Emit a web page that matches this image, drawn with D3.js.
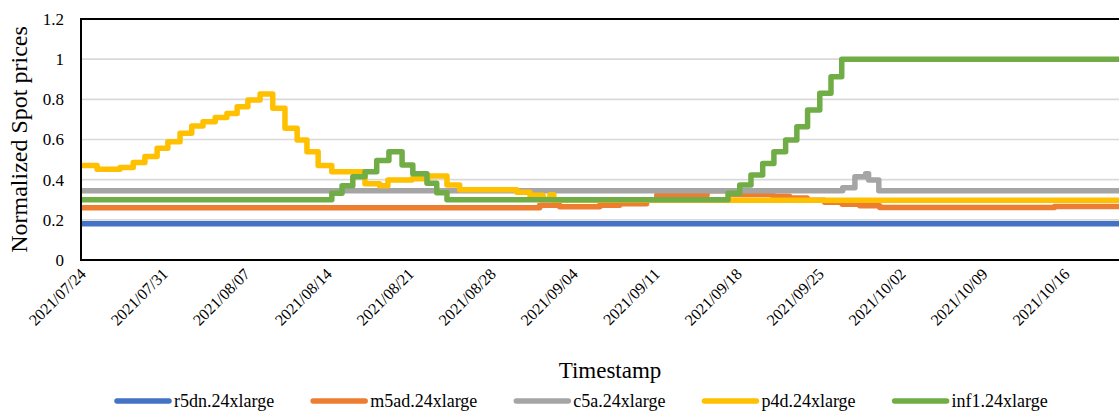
<!DOCTYPE html>
<html><head><meta charset="utf-8">
<script src="https://cdn.jsdelivr.net/npm/d3@7/dist/d3.min.js"></script>
<style>
body{margin:0;background:#fff}
svg{display:block}
svg text{font-family:"Liberation Serif","Times New Roman",serif;fill:#000}
</style>
</head><body>
<svg id="chart" width="1119" height="412"></svg>
<script>
// ---------- data ----------
const seriesNames = ["r5dn.24xlarge", "m5ad.24xlarge", "c5a.24xlarge", "p4d.24xlarge", "inf1.24xlarge"];
const seriesColors = ["#4472C4", "#ED7D31", "#A5A5A5", "#FFC000", "#70AD47"];

const yTickValues = [0, 0.2, 0.4, 0.6, 0.8, 1, 1.2];
const yTickLabels = ["0", "0.2", "0.4", "0.6", "0.8", "1", "1.2"];
const xTickLabels = ["2021/07/24", "2021/07/31", "2021/08/07", "2021/08/14", "2021/08/21", "2021/08/28",
  "2021/09/04", "2021/09/11", "2021/09/18", "2021/09/25", "2021/10/02", "2021/10/09", "2021/10/16"];
const xDomain = ["2021-07-24 00:00", "2021-10-22 00:00"];

const r5dnTimes = ["2021-07-24 00:00", "2021-10-22 00:00"];
const r5dnValues = [0.18, 0.18];

const m5adTimes = ["2021-07-24 00:00", "2021-09-01 04:00", "2021-09-02 21:00", "2021-09-06 07:00", "2021-09-08 00:00",
  "2021-09-10 07:00", "2021-09-11 04:00", "2021-09-15 11:00", "2021-09-17 10:00", "2021-09-21 02:00",
  "2021-09-22 12:00", "2021-09-24 00:00", "2021-09-25 12:00", "2021-09-27 00:00", "2021-09-28 12:00",
  "2021-09-30 05:00", "2021-10-15 03:00", "2021-10-22 00:00"];
const m5adValues = [0.26, 0.272, 0.265, 0.272, 0.28,
  0.30, 0.324, 0.345, 0.326, 0.318,
  0.309, 0.298, 0.288, 0.278, 0.27,
  0.262, 0.267, 0.267];

const c5aTimes = ["2021-07-24 00:00", "2021-09-27 01:00", "2021-09-28 02:00", "2021-09-29 00:00", "2021-09-29 06:00",
  "2021-09-30 03:00", "2021-10-22 00:00"];
const c5aValues = [0.345, 0.36, 0.415, 0.43, 0.398, 0.345, 0.345];

const p4dTimes = ["2021-07-24 00:00", "2021-07-25 09:00", "2021-07-27 08:00", "2021-07-28 11:00", "2021-07-29 11:00",
  "2021-07-30 12:00", "2021-07-31 10:00", "2021-08-01 11:00", "2021-08-02 11:00", "2021-08-03 10:00",
  "2021-08-04 11:00", "2021-08-05 11:00", "2021-08-06 08:00", "2021-08-07 06:00", "2021-08-08 07:00",
  "2021-08-09 09:00", "2021-08-10 10:00", "2021-08-11 11:00", "2021-08-12 07:00", "2021-08-13 06:00",
  "2021-08-14 10:00", "2021-08-17 06:00", "2021-08-18 12:00", "2021-08-19 05:00", "2021-08-21 06:00",
  "2021-08-22 15:00", "2021-08-24 06:00", "2021-08-25 08:00", "2021-08-30 05:00", "2021-08-31 08:00",
  "2021-09-01 11:00", "2021-09-02 01:00", "2021-09-02 09:00", "2021-10-22 00:00"];
const p4dValues = [0.47, 0.452, 0.46, 0.485, 0.515,
  0.556, 0.589, 0.631, 0.667, 0.689,
  0.71, 0.73, 0.763, 0.797, 0.827,
  0.755, 0.656, 0.598, 0.539, 0.47,
  0.44, 0.38, 0.37, 0.398, 0.405,
  0.418, 0.373, 0.35, 0.337, 0.322,
  0.302, 0.325, 0.298, 0.298];

const inf1Times = ["2021-07-24 00:00", "2021-08-14 10:00", "2021-08-15 07:00", "2021-08-16 05:00", "2021-08-17 06:00",
  "2021-08-18 06:00", "2021-08-19 07:00", "2021-08-20 10:00", "2021-08-21 08:00", "2021-08-22 13:00",
  "2021-08-23 09:00", "2021-08-24 06:00", "2021-09-17 06:00", "2021-09-18 06:00", "2021-09-19 05:00",
  "2021-09-20 05:00", "2021-09-21 04:00", "2021-09-22 04:00", "2021-09-23 03:00", "2021-09-24 01:00",
  "2021-09-25 02:00", "2021-09-26 01:00", "2021-09-26 23:00", "2021-10-22 00:00"];
const inf1Values = [0.30, 0.332, 0.37, 0.415, 0.44,
  0.495, 0.539, 0.473, 0.43, 0.382,
  0.335, 0.30, 0.332, 0.373, 0.423,
  0.481, 0.539, 0.598, 0.664, 0.747,
  0.83, 0.913, 1.0, 1.0];

// ---------- chart ----------
const FONT = '"Liberation Serif", "Times New Roman", serif';
const parse = d3.timeParse("%Y-%m-%d %H:%M");
const parseDay = d3.timeParse("%Y/%m/%d");
const allTimes = [r5dnTimes, m5adTimes, c5aTimes, p4dTimes, inf1Times];
const allValues = [r5dnValues, m5adValues, c5aValues, p4dValues, inf1Values];
const series = seriesNames.map((name, i) => ({
  name, color: seriesColors[i],
  points: allTimes[i].map((t, j) => ({ t: parse(t), v: allValues[i][j] }))
}));

const margin = { left: 81, top: 19, bottom: 260, right: 1135 };
const svg = d3.select("#chart");

const x = d3.scaleTime().domain(xDomain.map(parse)).range([margin.left, margin.right]);
const y = d3.scaleLinear().domain([0, 1.2]).range([margin.bottom, margin.top]);

// gridlines
svg.append("g").selectAll("line").data(yTickValues.filter(v => v > 0 && v < 1.2)).join("line")
  .attr("x1", margin.left).attr("x2", margin.right)
  .attr("y1", d => y(d)).attr("y2", d => y(d))
  .attr("stroke", "#d9d9d9").attr("stroke-width", 1.6);

// clip
svg.append("defs").append("clipPath").attr("id", "plotclip").append("rect")
  .attr("x", margin.left).attr("y", margin.top - 5)
  .attr("width", margin.right - margin.left).attr("height", margin.bottom - margin.top + 10);

const line = d3.line().x(d => x(d.t)).y(d => y(d.v)).curve(d3.curveStepAfter);
svg.append("g").attr("clip-path", "url(#plotclip)")
  .selectAll("path").data(series).join("path")
  .attr("d", d => line(d.points))
  .attr("fill", "none").attr("stroke", d => d.color)
  .attr("stroke-width", 5.5).attr("stroke-linejoin", "round");

// frame
svg.append("rect").attr("x", margin.left).attr("y", margin.top)
  .attr("width", margin.right - margin.left).attr("height", margin.bottom - margin.top)
  .attr("fill", "none").attr("stroke", "#000").attr("stroke-width", 2);

// y tick labels
svg.append("g").selectAll("text").data(yTickValues).join("text")
  .attr("x", margin.left - 17).attr("y", d => y(d)).attr("dy", "0.35em")
  .attr("text-anchor", "end")
  .style("font-family", FONT).style("font-size", "17px")
  .text((d, i) => yTickLabels[i]);

// x tick labels
svg.append("g").selectAll("text").data(xTickLabels).join("text")
  .attr("transform", d => `translate(${x(parseDay(d)) + 6},${margin.bottom + 15}) rotate(-45)`)
  .attr("text-anchor", "end")
  .style("font-family", FONT).style("font-size", "16px")
  .text(d => d);

// axis titles
svg.append("text").attr("x", 610).attr("y", 378).attr("text-anchor", "middle")
  .style("font-family", FONT).style("font-size", "23px").text("Timestamp");
svg.append("text").attr("transform", `translate(27,${(margin.top + margin.bottom) / 2}) rotate(-90)`)
  .attr("text-anchor", "middle").style("font-family", FONT).style("font-size", "24px")
  .text("Normalized Spot prices");

// legend
const lg = svg.append("g");
let lx = 117;
const ly = 401;
series.forEach(s => {
  lg.append("line").attr("x1", lx).attr("x2", lx + 52).attr("y1", ly).attr("y2", ly)
    .attr("stroke", s.color).attr("stroke-width", 5.5).attr("stroke-linecap", "round");
  const t = lg.append("text").attr("x", lx + 57).attr("y", ly + 6)
    .style("font-family", FONT).style("font-size", "18px").text(s.name);
  lx += 57 + t.node().getComputedTextLength() + 39;
});
</script>
</body></html>
